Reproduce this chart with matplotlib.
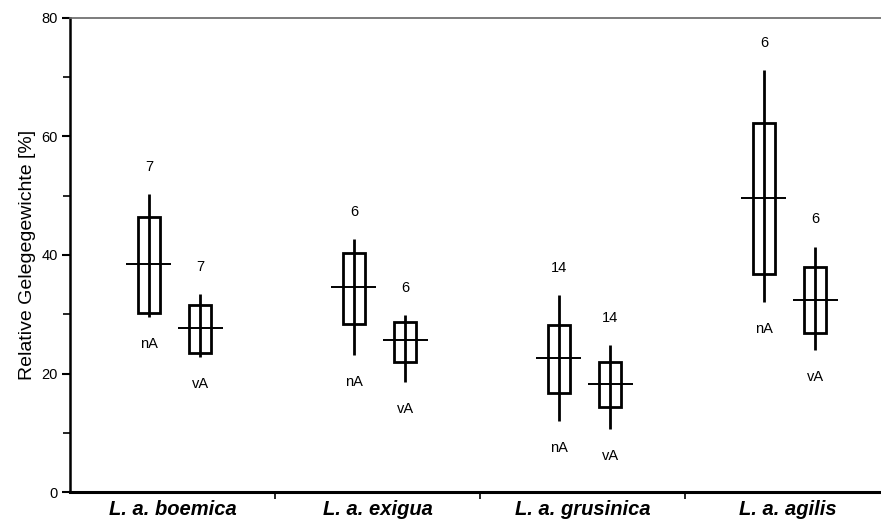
import matplotlib
matplotlib.use("Agg")
from matplotlib import pyplot as plt
from matplotlib.patches import Rectangle
import numpy as np

plt.rcParams['font.family'] = ['Liberation Sans', 'DejaVu Sans']

# data
categories = ["L. a. boemica", "L. a. exigua", "L. a. grusinica", "L. a. agilis"]
groups = ["nA", "vA"]

# nA series
nA_whisker_low = [29.5, 23.1, 12.0, 32.1]
nA_box_low = [30.2, 28.4, 16.7, 36.8]
nA_median = [38.5, 34.6, 22.6, 49.6]
nA_box_high = [46.4, 40.3, 28.2, 62.3]
nA_whisker_high = [50.3, 42.7, 33.2, 71.2]
nA_count = [7, 6, 14, 6]

# vA series
vA_whisker_low = [22.8, 18.6, 10.6, 24.0]
vA_box_low = [23.4, 21.9, 14.3, 26.9]
vA_median = [27.7, 25.7, 18.2, 32.4]
vA_box_high = [31.6, 28.7, 21.9, 38.0]
vA_whisker_high = [33.4, 29.9, 24.8, 41.4]
vA_count = [7, 6, 14, 6]

series = {
  "nA": (nA_whisker_low, nA_box_low, nA_median, nA_box_high, nA_whisker_high, nA_count),
  "vA": (vA_whisker_low, vA_box_low, vA_median, vA_box_high, vA_whisker_high, vA_count),
}
offsets = {"nA": -0.115, "vA": 0.135}

box_half = 0.054
median_half = 0.11
label_gap = 4.6

fig = plt.figure(figsize=(8.81, 5.22), dpi=100)
ax = fig.add_axes([70 / 881, 30 / 522, 820 / 881, 474 / 522])

for g in groups:
  wlo, blo, med, bhi, whi, cnt = series[g]
  for i in range(len(categories)):
    x = i + 0.5 + offsets[g]
    ax.vlines(x, wlo[i], whi[i], color="black", lw=2.0)
    ax.add_patch(Rectangle((x - box_half, blo[i]), 2 * box_half, bhi[i] - blo[i],
                           fill=False, edgecolor="black", lw=2.0))
    ax.hlines(med[i], x - median_half, x + median_half, color="black", lw=1.4)
    ax.text(x, whi[i] + label_gap, str(cnt[i]), ha="center", va="center", fontsize=10.5)
    ax.text(x, wlo[i] - label_gap, g, ha="center", va="center", fontsize=10.5)

ax.set_xlim(0, len(categories))
ax.set_ylim(0, 80)
ax.set_yticks([0, 20, 40, 60, 80])
ax.set_yticks([10, 30, 50, 70], minor=True)
ax.set_xticks(np.arange(1, len(categories)))
ax.set_xticklabels([])
for i, c in enumerate(categories):
  ax.text(i + 0.5, -1.3, c, ha="center", va="top", fontsize=14.5,
          fontweight="bold", fontstyle="italic")

ax.tick_params(axis="y", which="major", direction="out", length=6, width=1.5, labelsize=10.5, pad=3)
ax.tick_params(axis="y", which="minor", direction="out", length=5, width=1.2)
ax.tick_params(axis="x", which="major", direction="out", length=5, width=1.2)

ax.spines["left"].set_linewidth(1.8)
ax.spines["bottom"].set_linewidth(2.2)
ax.spines["top"].set_linewidth(1.2)
ax.spines["top"].set_color("#666666")
ax.spines["right"].set_visible(False)

ax.set_ylabel("Relative Gelegegewichte [%]", fontsize=14, labelpad=4)

fig.savefig("out.png", dpi=100)
